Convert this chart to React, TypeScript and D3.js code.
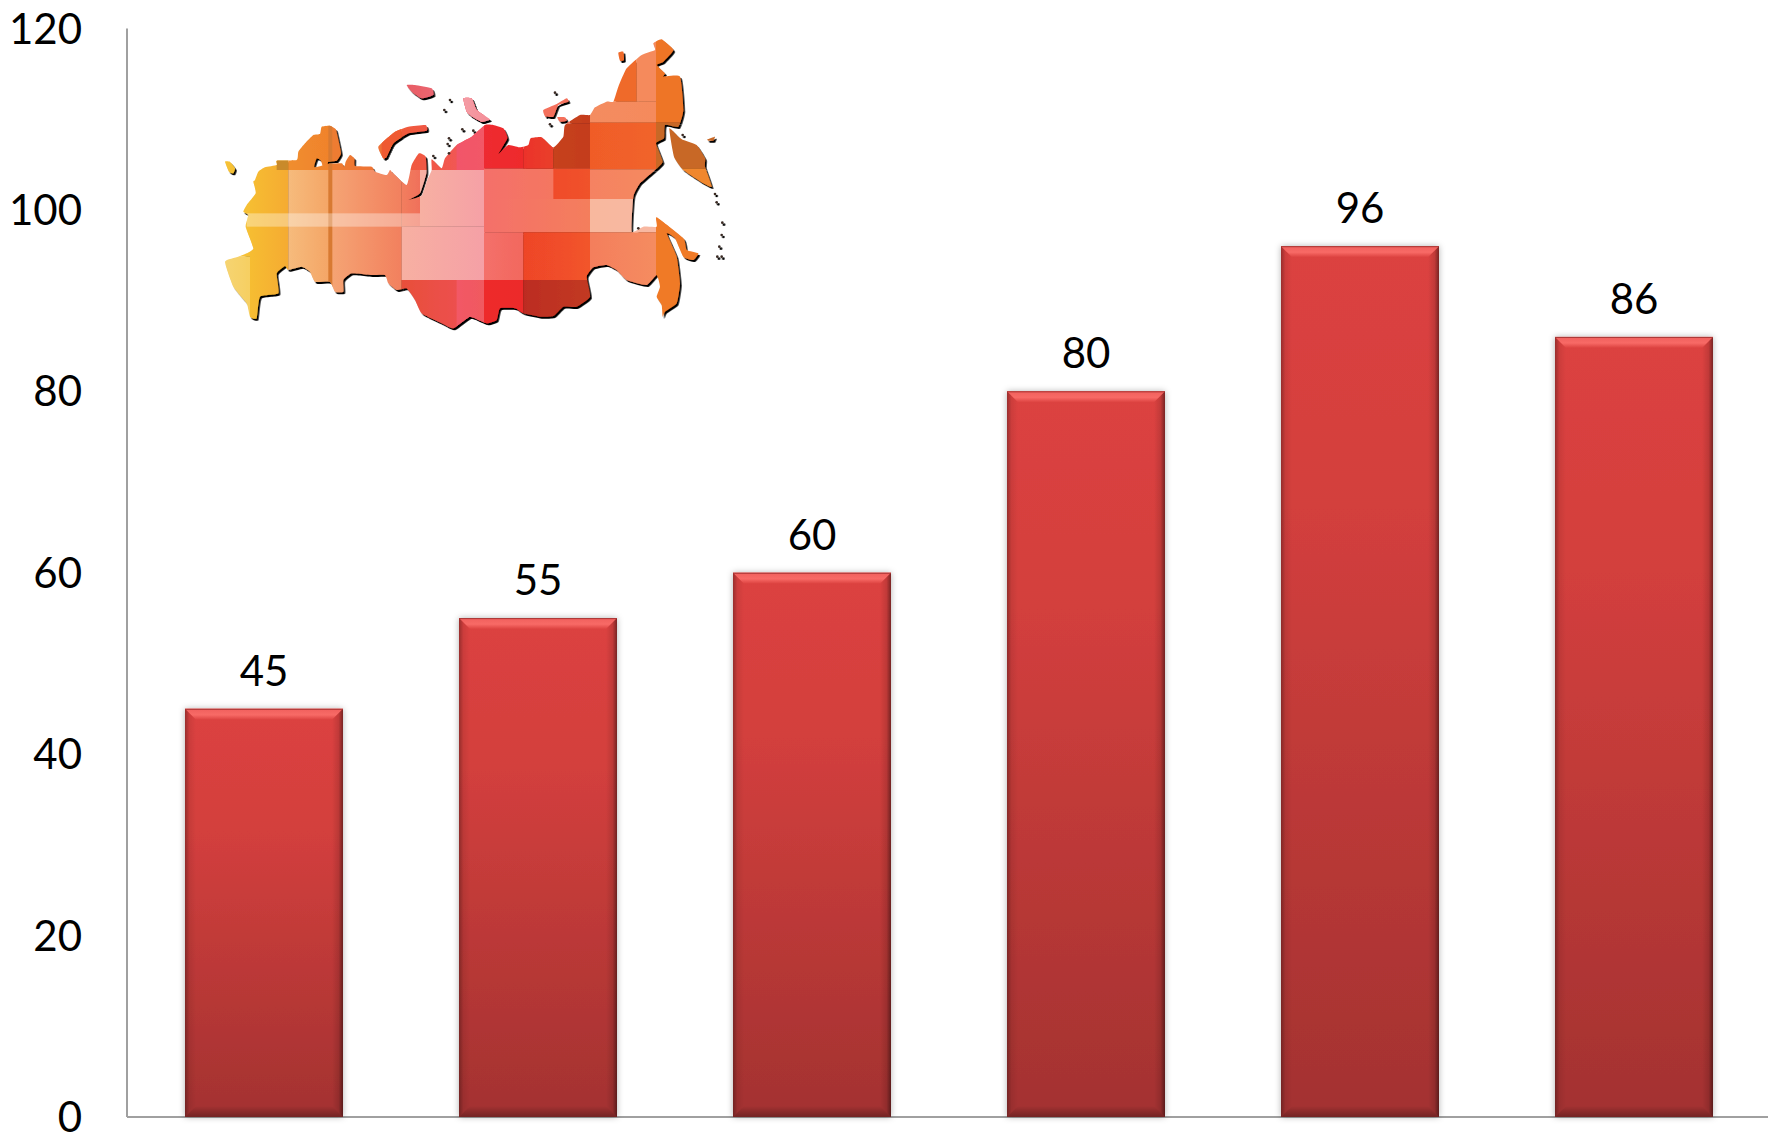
import React from "react";
import * as d3 from "d3";

const categories = ["A", "B", "C", "D", "E", "F"];
const values = [45, 55, 60, 80, 96, 86];
const yTicks = [0, 20, 40, 60, 80, 100, 120];

type P = [number, number];
const R = (pts: P[]): P[] => pts.map(([x, y]) => [x + 765, y] as P);

const mainOutline: P[] = [
  [120, 450], [130, 425], [150, 412], [185, 405], [185, 392], [245, 390], [250, 365], [270, 340], [295, 315], [315, 312],
  [320, 290], [345, 287], [362, 297], [368, 320], [378, 370], [365, 392], [340, 395], [335, 415], [325, 415], [318, 392], [305, 385], [298, 412],
  [340, 402], [380, 400], [388, 412], [392, 395], [405, 375], [418, 385], [420, 408], [470, 410], [480, 425], [515, 435], [525, 420], [530, 425],
  [575, 465], [590, 405], [612, 370], [632, 380], [634, 430], [615, 490], [580, 510], [620, 497], [637, 450], [650, 420], [650, 388], [680, 415],
  [690, 385], [725, 345], [770, 320], [810, 285],
  ...R([
    [70, 285], [100, 295], [112, 325], [85, 372], [115, 345], [150, 352], [175, 345], [182, 325], [215, 322], [250, 352], [280, 320], [285, 285],
    [330, 255], [360, 255], [375, 232], [410, 215], [430, 215], [445, 170], [470, 115], [515, 75], [555, 60], [550, 40], [575, 28], [610, 60],
    [580, 95], [560, 105], [585, 130], [580, 140], [630, 140], [640, 240], [625, 290], [585, 285], [582, 325], [558, 340], [578, 395], [555, 420],
    [510, 460], [490, 500], [485, 605], [520, 590], [560, 590], [560, 562], [640, 625], [650, 660], [685, 670], [670, 690], [640, 680], [615, 625], [590, 610],
    [620, 680], [630, 760], [620, 820], [585, 845], [578, 860], [575, 825], [560, 800], [570, 770], [560, 735], [530, 765], [470, 750], [440, 720],
    [410, 705], [370, 712], [350, 740], [360, 800], [320, 830], [280, 830], [250, 858], [210, 860], [160, 850], [135, 835], [90, 835], [80, 870], [50, 880],
  ]),
  [765, 860], [715, 895], [680, 880], [620, 850], [600, 810], [575, 775], [545, 780], [520, 760], [510, 735], [470, 735], [410, 730], [385, 750], [385, 785],
  [360, 785], [345, 755], [300, 755], [285, 725], [260, 710], [220, 720], [210, 708], [185, 730], [190, 790], [135, 800], [125, 865], [105, 860], [95, 820],
  [55, 770], [30, 695], [70, 680], [95, 670], [115, 655], [92, 590], [100, 555], [85, 545], [95, 525], [122, 490], [115, 455],
];

const islands: P[][] = [
  [[30, 395], [45, 395], [60, 415], [55, 430], [42, 425]],
  [[490, 350], [540, 305], [580, 290], [632, 285], [635, 302], [580, 310], [535, 340], [515, 380], [505, 385]],
  [[575, 165], [600, 165], [650, 175], [655, 195], [620, 205], [590, 185]],
  R([[-20, 205], [5, 205], [20, 240], [60, 268], [35, 275], [10, 262], [-10, 245]]),
  R([[220, 240], [260, 222], [290, 205], [295, 215], [265, 225], [250, 260], [225, 258]]),
  R([[262, 262], [285, 262], [290, 272], [270, 275]]),
  R([[445, 68], [460, 65], [462, 90], [450, 92]]),
  R([[598, 295], [625, 320], [640, 330], [680, 345], [705, 385], [705, 410], [725, 470], [700, 460], [640, 420], [612, 380]]),
  R([[712, 328], [735, 320], [730, 332], [715, 332]]),
];

const islets: P[] = [
  [705, 210], [688, 240], [742, 298], [775, 302], [702, 325], [698, 342], [702, 370], [655, 378],
  ...R([[255, 188], [240, 283], [735, 492], [740, 517], [757, 578], [755, 615], [748, 650], [742, 680], [755, 680], [505, 595], [638, 315]]),
];

type Tile = [number, number, number, number, string, string];

// x0, y0, x1, y1, left colour, right colour (map space)
const mapTiles: Tile[] = [
  [0, 0, 105, 680, "#f6c238", "#f6c034"],
  [0, 680, 105, 900, "#f6d678", "#f6cf62"],
  [105, 300, 220, 900, "#f6bd32", "#f5ab30"],
  [185, 380, 220, 420, "#c98a2a", "#c98a2a"],
  [220, 280, 345, 420, "#f08e2e", "#f0822c"],
  [220, 420, 345, 900, "#f6bb7c", "#f4a566"],
  [345, 280, 560, 420, "#ee7d30", "#ee6d3a"],
  [345, 420, 560, 900, "#f5a574", "#f2805e"],
  [560, 420, 615, 590, "#f27e5e", "#f0705a"],
  [560, 590, 810, 750, "#f7b0a2", "#f5a0a6"],
  [615, 420, 810, 590, "#f7b0a2", "#f5a0a6"],
  [560, 100, 810, 280, "#e85a62", "#ee7a88"],
  [560, 280, 810, 420, "#f05a3a", "#f25660"],
  [500, 280, 560, 420, "#ee5a30", "#f05a30"],
  [560, 750, 810, 900, "#e8503a", "#ef5058"],
  [340, 280, 352, 800, "#d87a30", "#d87a30"],
  ...([
    [-40, 150, 42, 420, "#f2556a", "#f25866"],
    [-40, 750, 42, 900, "#f25866", "#f05a60"],
    [42, 280, 160, 416, "#ee2a30", "#ee2c2c"],
    [42, 416, 360, 507, "#f4706a", "#f47a5c"],
    [42, 507, 360, 607, "#f4706a", "#f47e5c"],
    [42, 607, 160, 750, "#f4706a", "#f2685e"],
    [42, 750, 160, 900, "#ee2a2c", "#ec2c2a"],
    [160, 280, 250, 416, "#ec322a", "#e93f2a"],
    [160, 607, 360, 750, "#ee4528", "#f2552a"],
    [160, 750, 360, 900, "#bc2c20", "#c23a22"],
    [250, 280, 360, 416, "#c6421f", "#c43c1f"],
    [250, 416, 360, 507, "#f04c2c", "#f0522c"],
    [200, 150, 300, 280, "#f4705c", "#f4705c"],
    [-40, 150, 80, 280, "#f4a0a8", "#f48a94"],
    [300, 150, 360, 280, "#c6421f", "#c43c1f"],
    [360, 0, 500, 215, "#ef6a2a", "#ef6a2a"],
    [500, 0, 558, 215, "#f58a5c", "#f58a5c"],
    [360, 215, 558, 278, "#f48c60", "#f58a5c"],
    [360, 278, 558, 418, "#f05c28", "#f1642a"],
    [360, 418, 558, 507, "#f58262", "#f58a60"],
    [360, 507, 558, 607, "#f8b89e", "#f8b8a2"],
    [360, 607, 558, 800, "#f47e5c", "#f58c60"],
    [558, 0, 800, 278, "#ee7428", "#ee7428"],
    [558, 278, 800, 416, "#c86826", "#c86826"],
    [558, 416, 800, 520, "#f0862e", "#f0882f"],
    [558, 520, 800, 900, "#f07a28", "#f07a28"],
  ] as Tile[]).map(([a, b, c, d, e, f]) => [a + 765, b, c + 765, d, e, f] as Tile),
];

const W = 1768;
const H = 1133;
const axisX = 127;
const y = d3.scaleLinear().domain([0, 120]).range([1117, 28.5]);
const x = d3.scaleBand().domain(categories).range([axisX, axisX + 1644]).paddingInner(116 / 274).paddingOuter(58 / 274);
const FONT = "Lato, 'Open Sans', sans-serif";
const bevel = 11;

const line = d3.line().curve(d3.curveLinearClosed);
const smooth = d3.line().curve(d3.curveCardinalClosed.tension(0.55));

function Bar({ c, v }: { c: string; v: number }) {
  const x0 = x(c)!;
  const w = x.bandwidth();
  const x1 = x0 + w;
  const t = y(v);
  const b = y(0);
  const trap = (pts: P[]) => line(pts)!;
  return (
    <g>
      <rect x={x0} y={t} width={w} height={b - t} fill="url(#barFill)" filter="url(#barShadow)" />
      <path d={trap([[x0, t], [x1, t], [x1 - bevel, t + bevel], [x0 + bevel, t + bevel]])} fill="url(#barTop)" />
      <path d={trap([[x0, t], [x0 + bevel, t + bevel], [x0 + bevel, b - bevel], [x0, b]])} fill="url(#barLeft)" />
      <path d={trap([[x1, t], [x1 - bevel, t + bevel], [x1 - bevel, b - bevel], [x1, b]])} fill="url(#barRight)" />
      <path d={trap([[x0, b], [x0 + bevel, b - bevel], [x1 - bevel, b - bevel], [x1, b]])} fill="url(#barBottom)" />
      <line x1={x0} x2={x1} y1={t + 0.5} y2={t + 0.5} stroke="#a83534" strokeWidth={1} />
      <text x={x0 + w / 2} y={t - 38} dy="0.36em" textAnchor="middle" fontFamily={FONT} fontSize={42} fill="#000">{v}</text>
    </g>
  );
}

export default function App() {
  return (
    <svg width={W} height={H} viewBox={`0 0 ${W} ${H}`} style={{ position: "absolute", left: 0, top: 0, background: "#fff" }}>
      <defs>
        <linearGradient id="barFill" x1="0" y1="0" x2="0" y2="1">
          <stop offset="0" stopColor="#dc4240" />
          <stop offset="0.3" stopColor="#d33f3d" />
          <stop offset="1" stopColor="#a33231" />
        </linearGradient>
        <linearGradient id="barTop" x1="0" y1="0" x2="0" y2="1">
          <stop offset="0" stopColor="#f0605d" />
          <stop offset="0.55" stopColor="#f86a66" />
          <stop offset="1" stopColor="#dc4240" />
        </linearGradient>
        <linearGradient id="barLeft" x1="0" y1="0" x2="1" y2="0">
          <stop offset="0" stopColor="#000" stopOpacity={0.3} />
          <stop offset="0.4" stopColor="#000" stopOpacity={0.07} />
          <stop offset="1" stopColor="#000" stopOpacity={0} />
        </linearGradient>
        <linearGradient id="barRight" x1="1" y1="0" x2="0" y2="0">
          <stop offset="0" stopColor="#000" stopOpacity={0.45} />
          <stop offset="0.4" stopColor="#000" stopOpacity={0.12} />
          <stop offset="1" stopColor="#000" stopOpacity={0} />
        </linearGradient>
        <linearGradient id="barBottom" x1="0" y1="1" x2="0" y2="0">
          <stop offset="0" stopColor="#000" stopOpacity={0.3} />
          <stop offset="1" stopColor="#000" stopOpacity={0} />
        </linearGradient>
        <filter id="barShadow" x="-15%" y="-5%" width="130%" height="110%">
          <feDropShadow dx="0" dy="0" stdDeviation="3" floodColor="#000" floodOpacity="0.3" />
        </filter>
        <filter id="mapShadow" x="-5%" y="-5%" width="110%" height="110%">
          <feDropShadow dx="5" dy="6" stdDeviation="1.5" floodColor="#000" floodOpacity="1" />
        </filter>
        <clipPath id="mapClip">
          <path d={smooth(mainOutline)!} />
          {islands.map((p, i) => <path key={i} d={smooth(p)!} />)}
        </clipPath>
        {mapTiles.map((t, i) => (
          <linearGradient key={i} id={`tile${i}`} gradientUnits="userSpaceOnUse" x1={t[0]} x2={t[2]} y1={0} y2={0}>
            <stop offset="0" stopColor={t[4]} />
            <stop offset="1" stopColor={t[5]} />
          </linearGradient>
        ))}
      </defs>

      <line x1={axisX} x2={axisX} y1={y(120)} y2={y(0)} stroke="#a0a0a0" strokeWidth={2} />
      <line x1={axisX} x2={W} y1={y(0)} y2={y(0)} stroke="#a0a0a0" strokeWidth={2} />
      {yTicks.map((t) => (
        <text key={t} x={82} y={y(t)} dy="0.36em" textAnchor="end" fontFamily={FONT} fontSize={42} fill="#000">{t}</text>
      ))}

      <g transform="translate(215,30) scale(0.33333)">
        <g filter="url(#mapShadow)">
          <g clipPath="url(#mapClip)">
            {mapTiles.map((t, i) => (
              <rect key={i} x={t[0]} y={t[1]} width={t[2] - t[0]} height={t[3] - t[1]} fill={`url(#tile${i})`} />
            ))}
            <rect x={95} y={550} width={520} height={40} fill="#fff" opacity={0.35} />
          </g>
          {islets.map((p, i) => <circle key={i} cx={p[0]} cy={p[1]} r={4} fill="#3a2a24" />)}
        </g>
      </g>

      {categories.map((c, i) => <Bar key={c} c={c} v={values[i]} />)}
    </svg>
  );
}
